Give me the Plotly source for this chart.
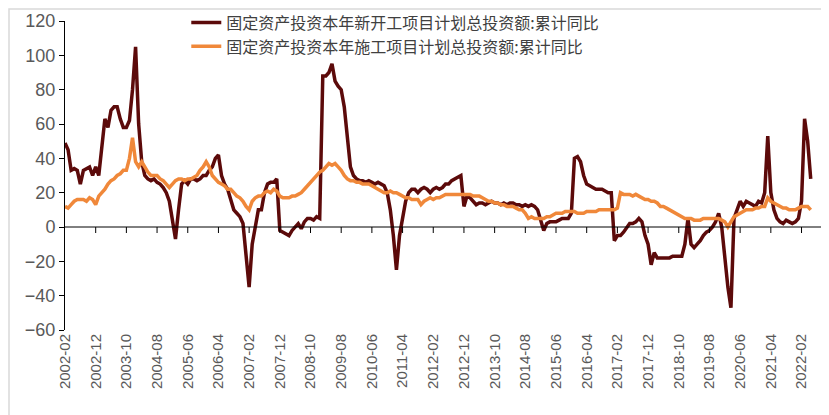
import plotly.graph_objects as go

red_by_year = {
2002:[49,45,33,34,33,25,33,34,35,30,35],
2003:[30,45,63,58,68,70,70,63,58,58,62,80],
2004:[105,60,38,30,28,27,28,26,25,23,20,15],
2005:[5,-7,10,25,27,25,28,28,27,28,30,30],
2006:[33,35,40,42,30,25,22,15,10,8,6,2],
2007:[-15,-35,-10,0,10,10,20,25,26,26,28,-2],
2008:[-3,-4,-5,-2,0,2,-1,3,5,5,4,6],
2009:[5,88,88,90,95,85,82,80,70,50,35,30],
2010:[28,27,27,26,27,26,25,26,25,24,20,10],
2011:[-5,-25,-5,5,15,20,22,22,20,22,23,22],
2012:[20,22,23,22,23,25,25,27,28,29,30,12],
2013:[18,17,15,13,14,14,13,14,15,14,14,13],
2014:[14,13,14,14,13,13,12,13,12,13,12,10],
2015:[3,-2,2,3,3,3,4,5,5,5,8,40],
2016:[41,38,30,25,24,23,22,22,22,21,20,20],
2017:[-8,-5,-5,-3,0,2,2,3,5,3,-5,-10],
2018:[-22,-15,-18,-18,-18,-18,-18,-17,-17,-17,-17,-10],
2019:[5,-10,-12,-10,-8,-5,-3,-2,0,3,8,0],
2020:[-20,-35,-47,5,10,15,12,15,14,13,12,15],
2021:[14,20,53,20,10,5,3,2,4,3,2,3],
2022:[5,15,63,50,28],
}
orange_by_year = {
2002:[12,11,13,15,16,16,16,15,17,16,13],
2003:[18,20,22,25,27,28,30,31,33,33,40,52],
2004:[38,35,38,35,32,30,30,30,28,27,25,23],
2005:[25,27,28,28,27,28,28,29,30,33,35,38],
2006:[35,30,28,26,25,24,22,22,20,18,17,15],
2007:[12,10,15,17,18,18,20,21,20,22,21,18],
2008:[17,17,17,18,18,19,20,22,24,26,28,30],
2009:[32,33,35,37,36,37,35,33,30,28,27,27],
2010:[26,26,25,25,25,24,23,22,21,20,20,21],
2011:[20,20,19,18,17,17,16,16,16,13,15,16],
2012:[17,16,17,17,18,19,19,19,19,19,19,19],
2013:[19,19,18,18,18,17,16,15,15,14,14,13],
2014:[13,12,12,12,11,10,10,8,5,6,5,5],
2015:[5,5,6,6,7,8,8,8,9,9,9,9],
2016:[8,8,8,9,9,9,9,10,10,10,10,10],
2017:[10,11,20,19,19,19,18,19,18,17,16,16],
2018:[15,15,14,12,12,11,10,9,8,7,6,5],
2019:[5,5,4,4,4,5,5,5,5,5,5,4],
2020:[3,0,3,6,7,8,9,10,10,10,11,11],
2021:[12,12,17,15,14,13,12,11,11,10,10,10],
2022:[11,12,12,12,10],
}

dates, red, orange = [], [], []
for y in range(2002, 2023):
    start = 2 if y == 2002 else 1
    for k, (r, o) in enumerate(zip(red_by_year[y], orange_by_year[y])):
        dates.append(f"{y}-{start+k:02d}")
        red.append(r); orange.append(o)

tickvals = dates[::10]
n = len(dates)

fig = go.Figure()
fig.add_trace(go.Scatter(x=dates, y=red, mode="lines", name="固定资产投资本年新开工项目计划总投资额:累计同比",
                         line=dict(color="#5C0A0A", width=3.5)))
fig.add_trace(go.Scatter(x=dates, y=orange, mode="lines", name="固定资产投资本年施工项目计划总投资额:累计同比",
                         line=dict(color="#F0883A", width=3.5)))

L, R, T, B = 57, 14, 13, 93
pw, ph = 829 - L - R, 415 - T - B
shapes = [dict(type="line", xref="paper", yref="y", x0=0, x1=1, y0=0, y1=0, line=dict(color="black", width=1))]
for tv in tickvals[1:]:
    shapes.append(dict(type="line", xref="x", yref="y", x0=tv, x1=tv, y0=0, y1=-3.5,
                       line=dict(color="black", width=1)))
shapes.append(dict(type="rect", xref="paper", yref="paper", x0=-(L - 1) / pw, x1=(829 - L - 3) / pw,
                   y0=-(B - 3) / ph, y1=1 + (T - 1) / ph, line=dict(color="#d9d9d9", width=1.5)))

fig.update_layout(
    width=829, height=415, plot_bgcolor="white", paper_bgcolor="white",
    margin=dict(l=L, r=R, t=T, b=B, autoexpand=False),
    font=dict(family="Liberation Sans, Noto Sans CJK SC", color="#595959", size=15),
    showlegend=True,
    legend=dict(x=0.16, y=1.05, xanchor="left", yanchor="top", bgcolor="rgba(0,0,0,0)",
                font=dict(size=16, family="Noto Sans CJK SC", color="#404040"), tracegroupgap=0),
    xaxis=dict(type="category", tickmode="array", tickvals=tickvals, ticktext=tickvals,
               range=[0, n + 3], tickangle=-90, showgrid=False, showline=False, ticks="",
               tickfont=dict(size=15)),
    yaxis=dict(range=[-60, 120], dtick=20, showgrid=False, zeroline=False, showline=True,
               linecolor="black", ticks="outside", ticklen=5, tickcolor="black",
               tickfont=dict(size=18)),
    shapes=shapes,
)
fig.write_html("out.html")
